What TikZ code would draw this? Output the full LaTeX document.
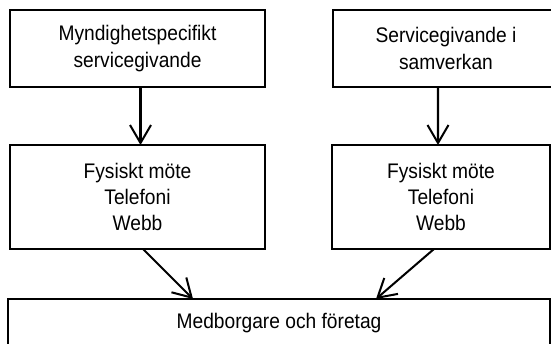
\documentclass[tikz,border=0pt]{standalone}
\usepackage{fontspec}
\setmainfont[FakeStretch=0.91]{Liberation Sans}
\usetikzlibrary{positioning,arrows.meta}

\tikzset{
	box/.style={draw, line width=1pt, inner sep=0pt, outer sep=0pt, align=center, font=\fontsize{12pt}{15pt}\selectfont},
	flow/.style={-{Straight Barb[length=0.36cm,width=0.42cm]}, line width=1.15pt},
}

\begin{document}
\begin{tikzpicture}[x=0.02cm,y=-0.02cm]
		\useasboundingbox (0,0) rectangle (551,344);
		\clip (0,0) rectangle (551,344);
		\node[box, minimum width=5.1cm, minimum height=1.54cm] (myn) at (137.5,48.5) {Myndighetspecifikt\\servicegivande};
		\node[box, minimum width=4.52cm, minimum height=1.54cm] (sam) at (446,48.5) {Servicegivande i\\samverkan};
		\node[box, minimum width=5.1cm, minimum height=2.08cm] (kanalv) at (137.5,197) {Fysiskt möte\\Telefoni\\Webb};
		\node[box, minimum width=4.36cm, minimum height=2.08cm] (kanalh) at (441,197) {Fysiskt möte\\Telefoni\\Webb};
		\node[box, minimum width=10.84cm, minimum height=0.96cm] (med) at (279,323) {Medborgare och företag};
		\draw[flow] ([xshift=0.06cm]myn.south) -- ([xshift=0.06cm]kanalv.north);
		\draw[flow] ([xshift=-0.16cm]sam.south) -- ([xshift=-0.06cm]kanalh.north);
		\draw[flow] ([xshift=0.11cm]kanalv.south) -- ([xshift=-1.72cm]med.north);
		\draw[flow] ([xshift=-0.14cm]kanalh.south) -- ([xshift=1.94cm]med.north);
\end{tikzpicture}
\end{document}
